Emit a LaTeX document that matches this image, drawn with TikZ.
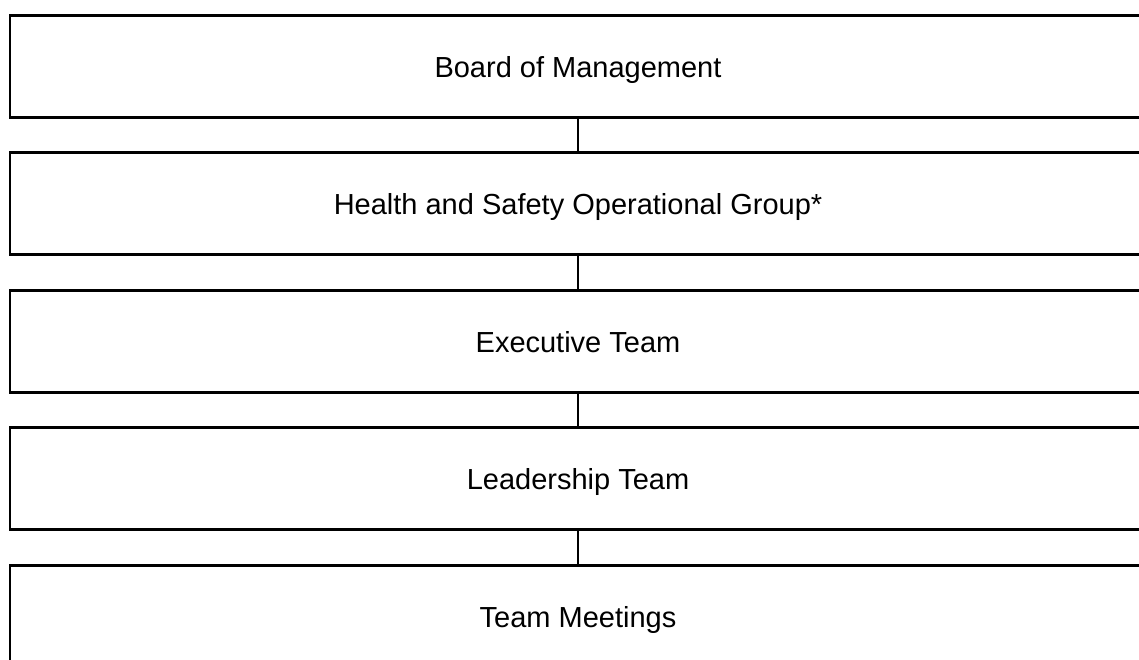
\documentclass[tikz,border=0pt]{standalone}
\usepackage{fontspec}
\setmainfont{Liberation Sans}
\begin{document}
\begin{tikzpicture}[x=1pt,y=-1pt,
  orgbox/.style={draw=black,line width=2.6pt,minimum width=1136pt,minimum height=102pt,
    inner sep=0pt,text height=24pt,text depth=2pt,anchor=north,font=\fontsize{29}{34}\selectfont},
  link/.style={draw=black,line width=2.6pt}]
\useasboundingbox (0,0) rectangle (1139,659);
\clip (0,0) rectangle (1139,659);
\fill[white] (0,0) rectangle (1139,659);
\node[orgbox] (b1) at (578,14) {Board of Management};
\node[orgbox] (b2) at (578,151) {Health and Safety Operational Group*};
\node[orgbox] (b3) at (578,289) {Executive Team};
\node[orgbox] (b4) at (578,426) {Leadership Team};
\node[orgbox] (b5) at (578,564) {Team Meetings};
\draw[link] (b1.south) -- (b2.north);
\draw[link] (b2.south) -- (b3.north);
\draw[link] (b3.south) -- (b4.north);
\draw[link] (b4.south) -- (b5.north);
\end{tikzpicture}
\end{document}
